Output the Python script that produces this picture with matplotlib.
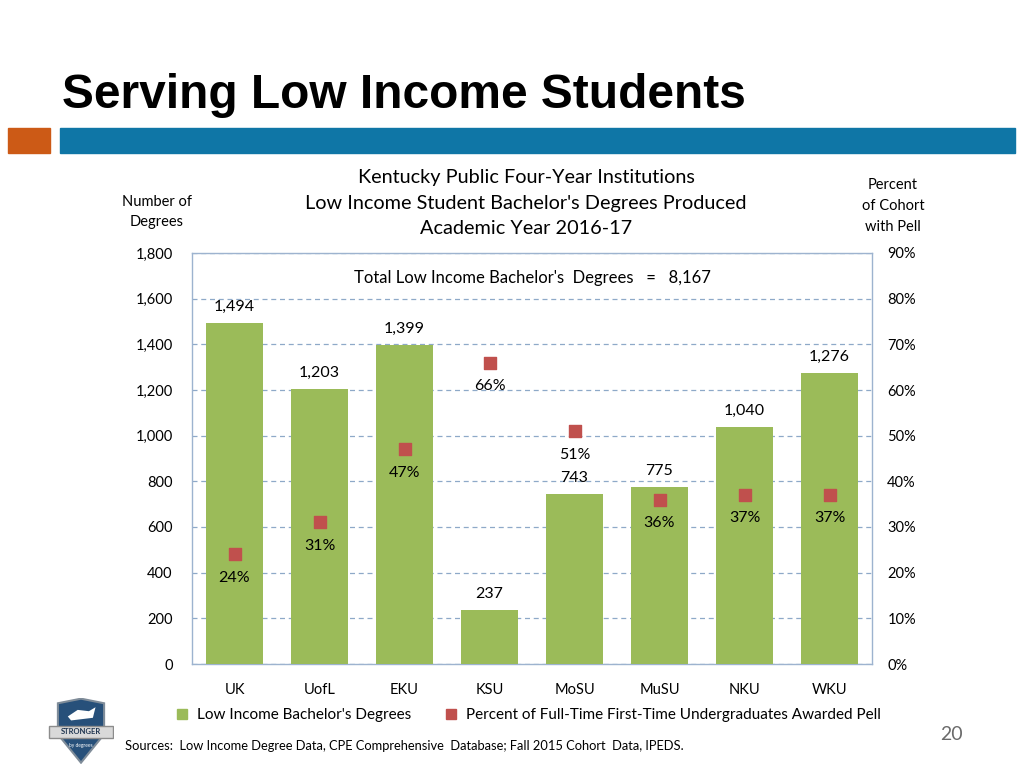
import matplotlib.pyplot as plt
import matplotlib.patches as mpatches
import numpy as np

# data
schools = ["UK", "UofL", "EKU", "KSU", "MoSU", "MuSU", "NKU", "WKU"]
degrees = [1494, 1203, 1399, 237, 743, 775, 1040, 1276]
pell_pct = [24, 31, 47, 66, 51, 36, 37, 37]
left_ticks = [0, 200, 400, 600, 800, 1000, 1200, 1400, 1600, 1800]
right_ticks = [0, 10, 20, 30, 40, 50, 60, 70, 80, 90]
total_degrees = 8167

GREEN = "#9BBB59"
RED = "#C0504D"
BLUE = "#0F76A6"
ORANGE = "#CC5A16"
FONT = ["Lato", "DejaVu Sans"]

plt.rcParams["font.family"] = FONT

fig = plt.figure(figsize=(10.24, 7.68), dpi=100)

# slide header
fig.text(62 / 1024, 1 - 95 / 768, "Serving Low Income Students", fontsize=34.5, fontweight="bold",
         family=["Liberation Sans", "DejaVu Sans"], va="center", ha="left")
fig.patches.append(mpatches.Rectangle((8 / 1024, 1 - 153 / 768), 42 / 1024, 25 / 768,
                                      transform=fig.transFigure, color=ORANGE))
fig.patches.append(mpatches.Rectangle((60 / 1024, 1 - 153 / 768), 955 / 1024, 25 / 768,
                                      transform=fig.transFigure, color=BLUE))

ax = fig.add_axes([192 / 1024, 1 - 664 / 768, 680 / 1024, 411 / 768])
x = np.arange(len(schools))
ax.bar(x, degrees, width=0.66, color=GREEN, zorder=3)
for xi, d in zip(x, degrees):
    ax.text(xi, d + 40, f"{d:,}", ha="center", va="bottom", fontsize=11.5)

ax.set_xlim(-0.5, len(schools) - 0.5)
ax.set_ylim(0, 1800)
ax.set_yticks(left_ticks)
ax.set_yticklabels([f"{t:,}" for t in left_ticks])
ax.set_xticks(x)
ax.set_xticklabels(schools)
ax.tick_params(length=0, labelsize=10.5, pad=14)
ax.tick_params(axis="x", pad=14)
ax.grid(axis="y", linestyle=(0, (4, 3)), color="#8EA9C8", linewidth=0.9, zorder=0)
for s in ax.spines.values():
    s.set_color("#9DB3CF")
    s.set_linewidth(1.0)

ax2 = ax.twinx()
ax2.set_ylim(0, 90)
ax2.set_yticks(right_ticks)
ax2.set_yticklabels([f"{t}%" for t in right_ticks])
ax2.tick_params(length=0, labelsize=10.5, pad=11)
for s in ax2.spines.values():
    s.set_visible(False)
ax2.scatter(x, pell_pct, marker="s", s=80, color=RED, zorder=5)
for xi, p in zip(x, pell_pct):
    ax2.text(xi, p - 3.6, f"{p}%", ha="center", va="top", fontsize=11.5, zorder=6)

ax.set_zorder(ax2.get_zorder() - 1)
ax2.set_zorder(2)
ax.patch.set_visible(True)
ax2.patch.set_visible(False)

ax.text(0.5, 0.94, f"Total Low Income Bachelor's  Degrees   =   {total_degrees:,}", transform=ax.transAxes,
        ha="center", va="center", fontsize=12)

# chart titles and axis captions
fig.text(526 / 1024, 1 - 203 / 768,
         "Kentucky Public Four-Year Institutions\nLow Income Student Bachelor's Degrees Produced\nAcademic Year 2016-17",
         ha="center", va="center", fontsize=14.3, linespacing=1.62)
fig.text(157 / 1024, 1 - 212 / 768, "Number of\nDegrees", ha="center", va="center", fontsize=10.5, linespacing=1.6)
fig.text(893 / 1024, 1 - 206 / 768, "Percent\nof Cohort\nwith Pell", ha="center", va="center", fontsize=10.5,
         linespacing=1.6)

# legend
legend_handles = [
    plt.Line2D([], [], marker="s", linestyle="none", color=GREEN, markersize=7, label="Low Income Bachelor's Degrees"),
    plt.Line2D([], [], marker="s", linestyle="none", color=RED, markersize=7,
               label="Percent of Full-Time First-Time Undergraduates Awarded Pell"),
]
fig.legend(handles=legend_handles, loc="center", bbox_to_anchor=(524 / 1024, 1 - 715 / 768), ncol=2, frameon=False,
           fontsize=11, handletextpad=0.0, columnspacing=1.6)

fig.text(125 / 1024, 1 - 746 / 768, "Sources:  Low Income Degree Data, CPE Comprehensive  Database; Fall 2015 Cohort  Data, IPEDS.",
         ha="left", va="center", fontsize=9.3)
fig.text(951 / 1024, 1 - 734 / 768, "20", ha="center", va="center", fontsize=14, color="#6B6B6B")

# simple "Stronger by Degrees" shield
lax = fig.add_axes([48 / 1024, 1 - 764 / 768, 66 / 1024, 66 / 768])
lax.set_xlim(0, 1)
lax.set_ylim(0, 1)
lax.axis("off")
shield = np.array([[0.15, 0.92], [0.5, 0.99], [0.85, 0.92], [0.85, 0.45], [0.5, 0.02], [0.15, 0.45]])
lax.add_patch(mpatches.Polygon(shield, closed=True, facecolor="#27507A", edgecolor="#7F8C99", linewidth=1.5))
lax.add_patch(mpatches.Polygon([[0.02, 0.58], [0.98, 0.58], [0.98, 0.40], [0.02, 0.40]], closed=True,
                               facecolor="#D9D9D9", edgecolor="#8C8C8C", linewidth=1))
lax.add_patch(mpatches.Polygon([[0.3, 0.72], [0.45, 0.82], [0.62, 0.80], [0.72, 0.86], [0.68, 0.70], [0.35, 0.66]],
                               closed=True, facecolor="white"))
lax.text(0.5, 0.49, "STRONGER", ha="center", va="center", fontsize=5.5, fontweight="bold", color="#1F3550")
lax.text(0.5, 0.28, "by degrees", ha="center", va="center", fontsize=3.5, color="white")

fig.savefig("out.png", dpi=100)
